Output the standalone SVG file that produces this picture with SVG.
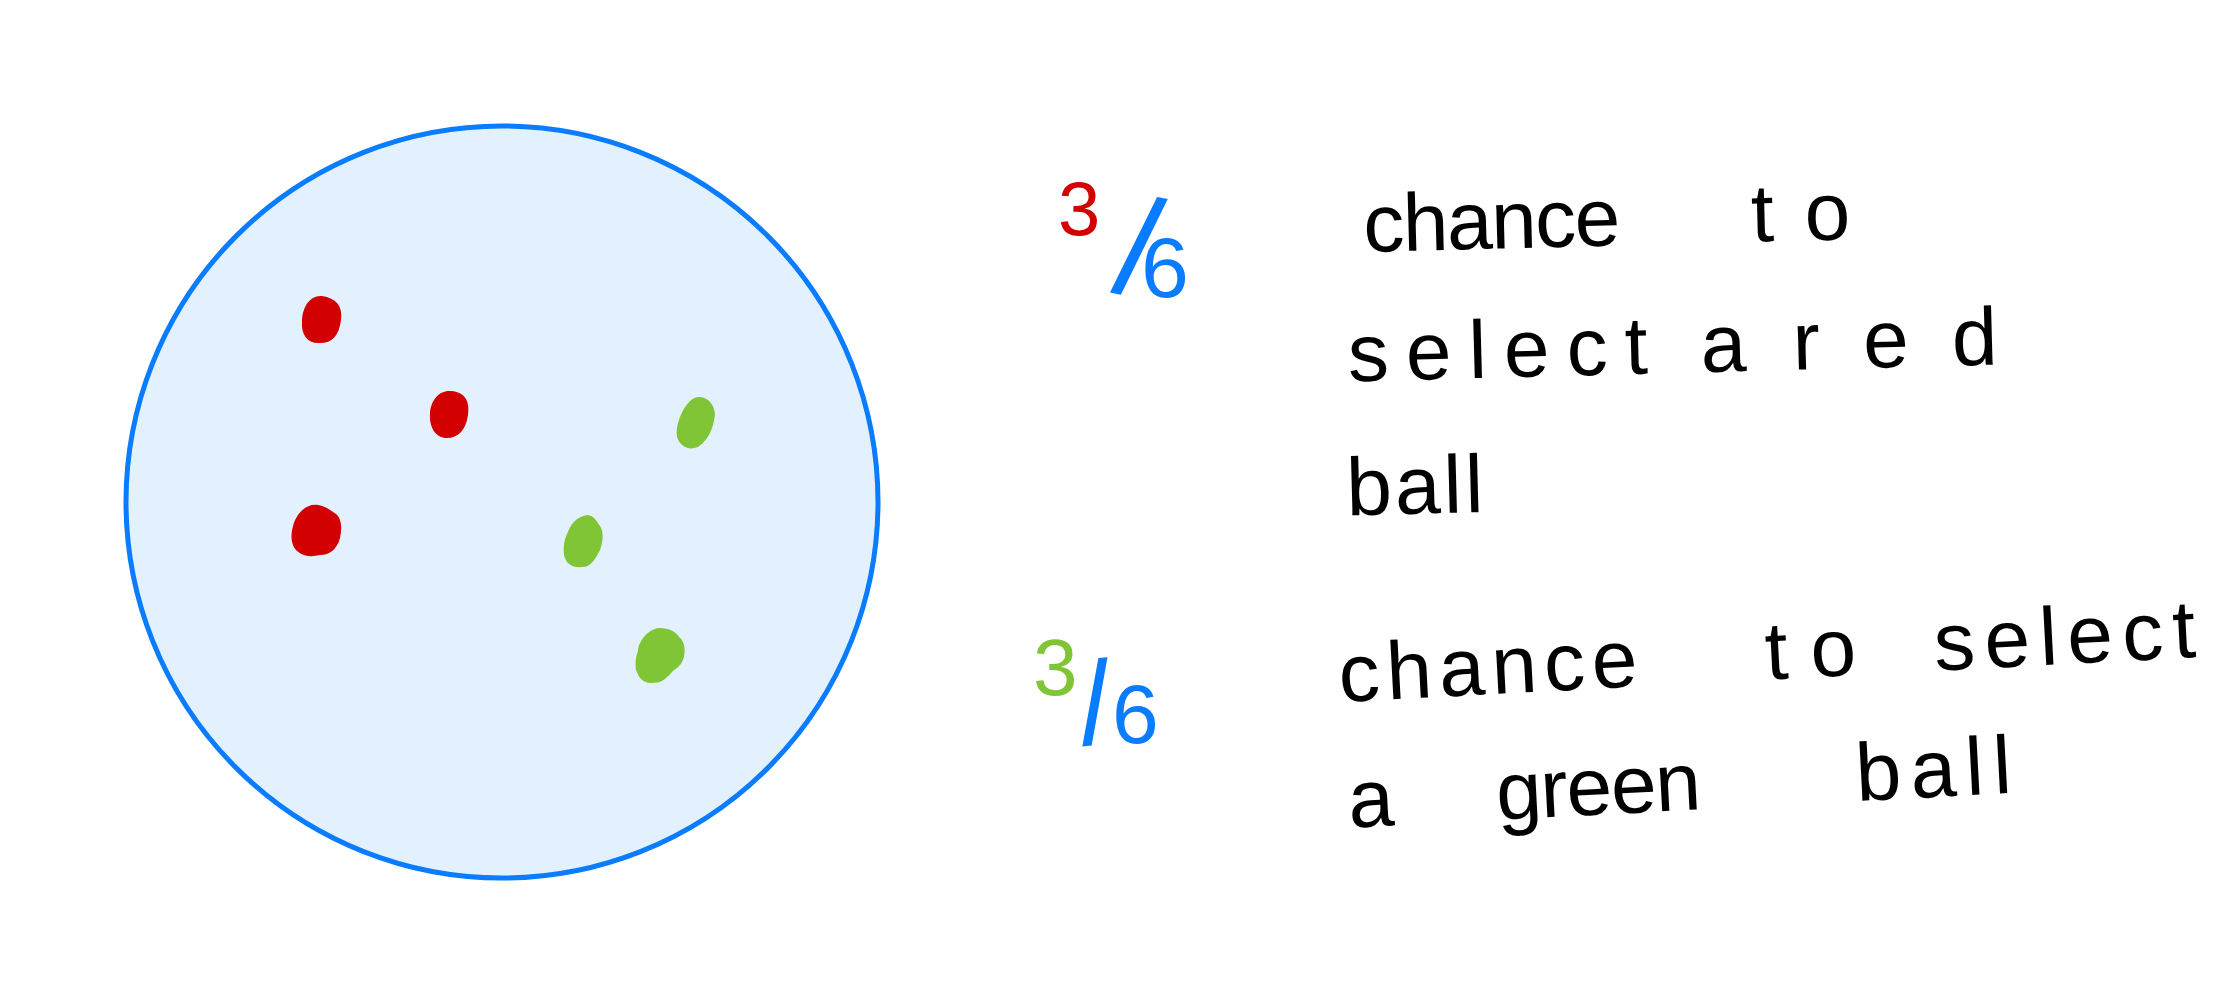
<svg xmlns="http://www.w3.org/2000/svg" width="2216" height="1000" viewBox="0 0 2216 1000">
<style>
.hw{font-family:"Liberation Sans","DejaVu Sans",sans-serif;font-size:82px;fill:#000}
.fr{font-family:"Liberation Sans","DejaVu Sans",sans-serif}
.red{fill:#d20000}
.grn{fill:#80c536}
.blu{fill:#0a7cff}
</style>
<rect width="2216" height="1000" fill="#fff"/>
<g id="jar">
<circle cx="502" cy="502" r="376" fill="#e3f0fd" stroke="#0a7cff" stroke-width="5"/>
</g>
<g id="balls">
<path class="red" d="M322,296 C336,298 343,306 341,320 C339,336 332,343 320,343 C308,344 301,335 302,322 C302,307 310,295 322,296 Z"/>
<path class="red" d="M451,391 C465,392 470,401 468,415 C466,430 458,438 447,438 C436,438 429,428 430,413 C431,400 439,390 451,391 Z"/>
<path class="red" d="M318,505 C326,506 331,511 336,514 C342,519 342,529 340,538 C337,549 330,555 320,555 C312,557 304,557 297,551 C290,544 291,534 293,526 C296,514 306,503 318,505 Z"/>
<path class="grn" d="M700,397 C710,398 714,406 715,414 C714,426 709,440 698,447 C688,451 680,446 677,437 C676,431 677,425 679,420 C683,408 691,396 700,397 Z"/>
<path class="grn" d="M587,515 C595,516 597,522 600,526 C604,532 603,542 600,550 C595,560 590,567 583,567 C572,568 566,564 564,555 C563,547 564,540 567,534 C571,524 576,517 587,515 Z"/>
<path class="grn" d="M659,628 C670,628 676,632 679,637 C685,641 686,652 683,660 C680,667 676,668 672,672 C665,680 661,683 651,683 C643,683 639,678 636,670 C635,662 636,656 638,651 C638,642 648,629 659,628 Z"/>
</g>
<g id="connectors"></g>
<g id="red-label">
<text class="fr red" x="1058" y="235" font-size="76">3</text>
<text class="fr blu" x="1139" y="296" font-size="140" text-anchor="middle" transform="rotate(11 1139 246)">/</text>
<text class="fr blu" x="1141" y="297" font-size="86">6</text>
<g transform="rotate(-1.5 1364 252)">
<text class="hw" x="1364" y="252" textLength="257" lengthAdjust="spacing">chance</text>
<text class="hw" x="1752" y="252" textLength="99" lengthAdjust="spacing">to</text>
<text class="hw" x="1345" y="381" textLength="300" lengthAdjust="spacing">select</text>
<text class="hw" x="1698" y="381" textLength="62" lengthAdjust="spacing">a</text>
<text class="hw" x="1790" y="381" textLength="205" lengthAdjust="spacing">red</text>
<text class="hw" x="1340" y="515" textLength="137" lengthAdjust="spacing">ball</text>
</g>
</g>
<g id="green-label">
<text class="fr grn" x="1033" y="695" font-size="80">3</text>
<text class="fr blu" x="1095" y="744" font-size="118" text-anchor="middle" transform="rotate(-5 1095 702)">/</text>
<text class="fr blu" x="1112" y="743" font-size="84">6</text>
<g transform="rotate(-3 1340 702)">
<text class="hw" x="1340" y="702" textLength="299" lengthAdjust="spacing">chance</text>
<text class="hw" x="1767" y="702" textLength="91" lengthAdjust="spacing">to</text>
<text class="hw" x="1936" y="702" textLength="262" lengthAdjust="spacing">select</text>
<text class="hw" x="1343" y="828" textLength="49" lengthAdjust="spacing">a</text>
<text class="hw" x="1491" y="828" textLength="205" lengthAdjust="spacing">green</text>
<text class="hw" x="1851" y="828" textLength="156" lengthAdjust="spacing">ball</text>
</g>
</g>
</svg>
